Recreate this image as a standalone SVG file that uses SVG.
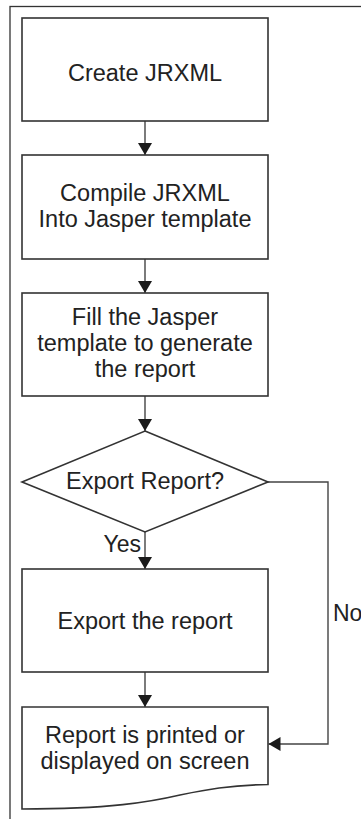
<svg xmlns="http://www.w3.org/2000/svg" width="361" height="819" viewBox="0 0 361 819">
<defs>
<style>
.node{fill:#fff;stroke:#333;stroke-width:1.6}
.t{font-family:"Liberation Sans",Arial,sans-serif;font-size:23.5px;fill:#222;text-anchor:middle}
.lbl{font-family:"Liberation Sans",Arial,sans-serif;font-size:23px;fill:#222}
.edge{fill:none;stroke:#444;stroke-width:1.4}
</style>
<marker id="ah" markerWidth="14" markerHeight="14" viewBox="0 0 12 14" refX="12" refY="7" orient="auto" markerUnits="userSpaceOnUse">
<path d="M0,0 L12,7 L0,14 Z" fill="#1a1a1a"/>
</marker>
</defs>
<rect width="361" height="819" fill="#fff"/>
<rect x="10" y="6.5" width="400" height="900" fill="none" stroke="#333" stroke-width="1.3"/>
<g id="connectors">
<line class="edge" x1="145" y1="121" x2="145" y2="155" marker-end="url(#ah)"/>
<line class="edge" x1="145" y1="259" x2="145" y2="293" marker-end="url(#ah)"/>
<line class="edge" x1="145" y1="396" x2="145" y2="431" marker-end="url(#ah)"/>
<line class="edge" x1="145" y1="532" x2="145" y2="569" marker-end="url(#ah)"/>
<line class="edge" x1="145" y1="672" x2="145" y2="707" marker-end="url(#ah)"/>
<polyline class="edge" points="268,482 328,482 328,744 268.5,744" marker-end="url(#ah)"/>
<text class="lbl" x="141" y="552" text-anchor="end">Yes</text>
<text class="lbl" x="333" y="621">No</text>
</g>
<g id="create">
<rect class="node" x="22" y="18" width="246" height="103"/>
<text class="t" x="145" y="80.5">Create JRXML</text>
</g>
<g id="compile">
<rect class="node" x="22" y="155" width="246" height="104"/>
<text class="t" x="145" y="200.7">Compile JRXML</text>
<text class="t" x="145" y="226.7">Into Jasper template</text>
</g>
<g id="fill">
<rect class="node" x="22" y="293" width="246" height="103"/>
<text class="t" x="145" y="325">Fill the Jasper</text>
<text class="t" x="145" y="351">template to generate</text>
<text class="t" x="145" y="377">the report</text>
</g>
<g id="decision">
<polygon class="node" points="145,431 268,482 145,532 22,482"/>
<text class="t" x="145" y="488.5">Export Report?</text>
</g>
<g id="export">
<rect class="node" x="22" y="569" width="246" height="103"/>
<text class="t" x="145" y="628.5">Export the report</text>
</g>
<g id="output">
<path class="node" d="M22,707 H268 V784.5 C230,785 205,790 180,795 C150,802 110,809 22,809 Z"/>
<text class="t" x="145" y="743.3">Report is printed or</text>
<text class="t" x="145" y="768.5">displayed on screen</text>
</g>
</svg>
